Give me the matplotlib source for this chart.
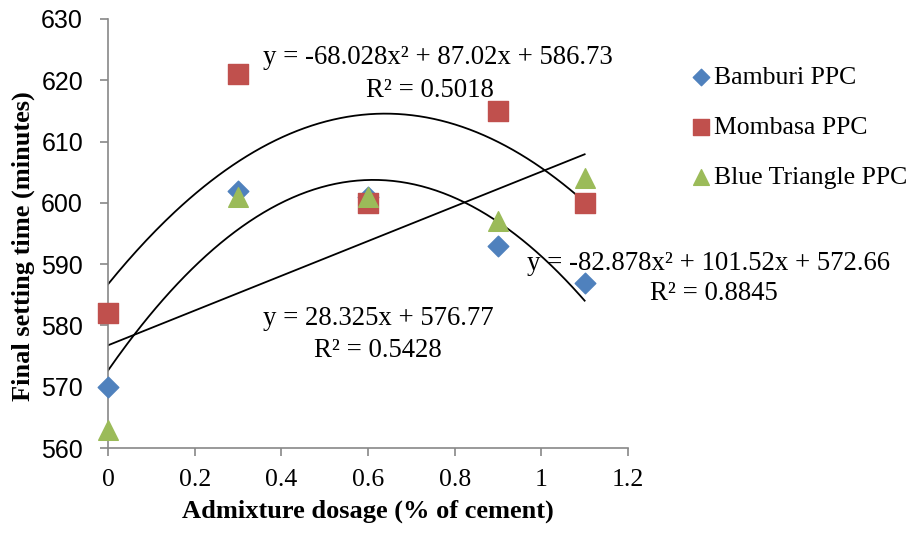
import numpy as np
import matplotlib
matplotlib.use("Agg")
from matplotlib import pyplot as plt

# data
dosage = [0, 0.3, 0.6, 0.9, 1.1]
bamburi = [570, 602, 601, 593, 587]
mombasa = [582, 621, 600, 615, 600]
blue_triangle = [563, 601, 601, 597, 604]

# trendline coefficients (highest power first), as printed on the chart
mombasa_fit = [-68.028, 87.02, 586.73]
bamburi_fit = [-82.878, 101.52, 572.66]
linear_fit = [28.325, 576.77]

xticks = [0, 0.2, 0.4, 0.6, 0.8, 1, 1.2]
yticks = [560, 570, 580, 590, 600, 610, 620, 630]

serif = "Liberation Serif"
sans = "Liberation Sans"

def main():
    fig = plt.figure(figsize=(9.17, 5.36), dpi=100)
    ax = fig.add_axes([0.1178, 0.164, 0.567, 0.8006])

    xs = np.linspace(0, 1.1, 200)
    for c in (mombasa_fit, bamburi_fit, linear_fit):
        ax.plot(xs, np.polyval(c, xs), color="black", lw=1.3, zorder=2)

    ax.scatter(dosage, bamburi, marker="D", s=110, color="#4F81BD", label="Bamburi PPC", zorder=3, clip_on=False)
    ax.scatter(dosage, mombasa, marker="s", s=190, color="#C0504D", label="Mombasa PPC", zorder=3, clip_on=False)
    ax.scatter(dosage, blue_triangle, marker="^", s=200, color="#9BBB59", label="Blue Triangle PPC", zorder=4, clip_on=False)

    ax.set_xlim(0, 1.2)
    ax.set_ylim(560, 630)
    ax.set_xticks(xticks)
    ax.set_xticklabels(["0", "0.2", "0.4", "0.6", "0.8", "1", "1.2"], family=serif, fontsize=18.5)
    ax.set_yticks(yticks)
    ax.set_yticklabels([str(v) for v in yticks], family=sans, fontsize=18)
    for s in ("top", "right"):
        ax.spines[s].set_visible(False)
    for s in ("left", "bottom"):
        ax.spines[s].set_color("#888888")
        ax.spines[s].set_linewidth(1.2)
    ax.tick_params(colors="#888888", labelcolor="black", length=6, width=1.2)
    ax.tick_params(axis="x", pad=9)
    ax.tick_params(axis="y", pad=12)

    ax.set_xlabel("Admixture dosage (% of cement)", family=serif, fontweight="bold", fontsize=19, labelpad=6)
    ax.set_ylabel("Final setting time (minutes)", family=serif, fontweight="bold", fontsize=19)
    ax.yaxis.set_label_coords(-0.14, 0.47)

    tk = dict(family=serif, fontsize=19.3, clip_on=False)
    ax.text(0.357, 623.64, "y = -68.028x² + 87.02x + 586.73", ha="left", va="center", **tk)
    ax.text(0.743, 618.41, "R² = 0.5018", ha="center", va="center", **tk)
    ax.text(0.967, 590.19, "y = -82.878x² + 101.52x + 572.66", ha="left", va="center", **tk)
    ax.text(1.398, 585.29, "R² = 0.8845", ha="center", va="center", **tk)
    ax.text(0.357, 581.21, "y = 28.325x + 576.77", ha="left", va="center", **tk)
    ax.text(0.623, 575.99, "R² = 0.5428", ha="center", va="center", **tk)

    ax.legend(loc="upper left", bbox_to_anchor=(1.091, 0.92), frameon=False,
              prop={"family": serif, "size": 18.5}, handletextpad=0.0,
              labelspacing=1.04, markerscale=0.8, handlelength=1.0, borderpad=0)
    fig.savefig("out.png", dpi=100)

main()
